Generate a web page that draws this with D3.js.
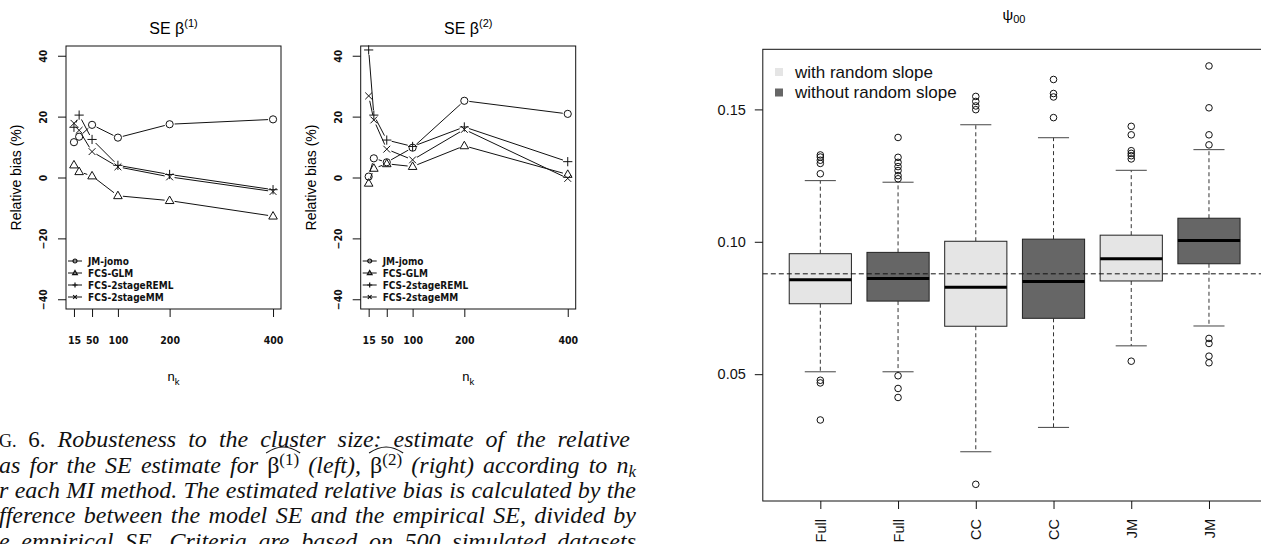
<!DOCTYPE html>
<html>
<head>
<meta charset="utf-8">
<script src="https://d3js.org/d3.v7.min.js"></script>
<style>
  body { margin: 0; background: #fff; }
  svg { display: block; }
</style>
</head>
<body></body>
<script>
    // relative bias (%) of the SE, by cluster size n_k
    var nk = [15, 25, 50, 100, 200, 400];
    var nkTicks = [15, 50, 100, 200, 400];
    var biasTicks = [-40, -20, 0, 20, 40];
    var methods = ["JM-jomo", "FCS-GLM", "FCS-2stageREML", "FCS-2stageMM"];
    var markers = ["circle", "triangle", "plus", "cross"];

    var b1Jomo = [11.6, 13.4, 17.3, 13.1, 17.5, 19.1];
    var b1Glm  = [4.1, 1.9, 0.5, -6.0, -7.6, -12.7];
    var b1Reml = [16.5, 20.5, 12.5, 4.0, 1.0, -4.0];
    var b1Mm   = [17.8, 15.5, 8.5, 3.5, 0.2, -4.6];

    var b2Jomo = [0.3, 6.3, 5.0, 9.8, 25.2, 20.9];
    var b2Glm  = [-1.9, 3.0, 4.5, 3.6, 10.4, 1.0];
    var b2Reml = [41.9, 20.5, 12.3, 10.2, 16.6, 5.2];
    var b2Mm   = [26.8, 18.9, 9.3, 5.8, 15.8, -0.3];

    // psi_00 boxplot summaries
    var boxLabels = ["Full", "Full", "CC", "CC", "JM", "JM"];
    var boxGroup  = [0, 1, 0, 1, 0, 1];
    var groupNames = ["with random slope", "without random slope"];
    var q1      = [0.0766, 0.0776, 0.0681, 0.0711, 0.0852, 0.0917];
    var med     = [0.0857, 0.0861, 0.0828, 0.0850, 0.0936, 0.1005];
    var q3      = [0.0955, 0.0960, 0.1002, 0.1010, 0.1025, 0.1089];
    var whiskLo = [0.0509, 0.0509, 0.0207, 0.0299, 0.0607, 0.0682];
    var whiskHi = [0.1231, 0.1225, 0.1442, 0.1393, 0.1270, 0.1348];
    var outliers = [
        [0.1328, 0.1320, 0.1308, 0.1296, 0.1257, 0.0477, 0.0467, 0.0327],
        [0.1394, 0.1319, 0.1300, 0.1284, 0.1269, 0.1250, 0.1238, 0.0494, 0.0446, 0.0412],
        [0.1549, 0.1530, 0.1513, 0.1499, 0.0084],
        [0.1613, 0.1560, 0.1547, 0.1469],
        [0.1436, 0.1404, 0.1344, 0.1334, 0.1325, 0.1313, 0.0549],
        [0.1664, 0.1506, 0.1404, 0.1366, 0.0635, 0.0616, 0.0568, 0.0543]
    ];
    var trueValue = 0.0879;
    var psiTicks = [0.05, 0.10, 0.15];

    var svg = d3.select("body").append("svg")
        .attr("width", 1261)
        .attr("height", 544)
        .style("font-family", "'Liberation Sans', Arial, sans-serif");

    var narrow = "'Liberation Sans Narrow', 'DejaVu Sans Condensed', sans-serif";

    let markerPath = (type, f) => {
        let p = d3.path();
        if (type === "circle") {
            p.moveTo(3.6 * f, 0);
            p.arc(0, 0, 3.6 * f, 0, 2 * Math.PI);
        } else if (type === "triangle") {
            p.moveTo(0, -4.6 * f);
            p.lineTo(4.3 * f, 2.9 * f);
            p.lineTo(-4.3 * f, 2.9 * f);
            p.closePath();
        } else if (type === "plus") {
            p.moveTo(-4.6 * f, 0); p.lineTo(4.6 * f, 0);
            p.moveTo(0, -4.6 * f); p.lineTo(0, 4.6 * f);
        } else {
            p.moveTo(-3.4 * f, -3.4 * f); p.lineTo(3.4 * f, 3.4 * f);
            p.moveTo(-3.4 * f, 3.4 * f); p.lineTo(3.4 * f, -3.4 * f);
        }
        return p.toString();
    }

    let drawPanel = (left, right, sup, series) => {
        let top = 46, bottom = 309;
        let x = d3.scaleLinear().domain([-0.4, 415.4]).range([left, right]);
        let y = d3.scaleLinear().domain([-43.2, 43.2]).range([bottom, top]);
        let g = svg.append("g");

        g.append("rect")
            .attr("x", left).attr("y", top)
            .attr("width", right - left).attr("height", bottom - top)
            .attr("fill", "none").attr("stroke", "#111");

        let yAxis = g.append("g")
            .attr("transform", "translate(" + left + ",0)")
            .call(d3.axisLeft(y).tickValues(biasTicks).tickSize(8).tickFormat(d3.format("d")));
        yAxis.select(".domain").remove();
        yAxis.selectAll(".tick text")
            .attr("x", null).attr("dy", null).attr("y", 0)
            .attr("text-anchor", "middle")
            .attr("transform", "translate(-19,0) rotate(-90)");

        let xAxis = g.append("g")
            .attr("transform", "translate(0," + bottom + ")")
            .call(d3.axisBottom(x).tickValues(nkTicks).tickSize(8).tickFormat(d3.format("d")));
        xAxis.select(".domain").remove();
        xAxis.selectAll("text").attr("y", 35).attr("dy", null);

        g.selectAll(".tick text")
            .style("font-family", narrow).style("font-weight", "bold")
            .style("font-size", "10.5px").attr("fill", "#111");
        g.selectAll(".tick line").attr("stroke", "#111");

        // title
        let cx = (left + right) / 2;
        let t = g.append("text").attr("x", cx).attr("y", 34)
            .attr("text-anchor", "middle").style("font-size", "16px");
        t.append("tspan").text("SE \u03b2");
        t.append("tspan").attr("dy", -7).style("font-size", "11px").text(sup);

        let xl = g.append("text").attr("x", cx).attr("y", 381)
            .attr("text-anchor", "middle").style("font-size", "13px");
        xl.append("tspan").text("n");
        xl.append("tspan").attr("dy", 4).style("font-size", "9.5px").text("k");

        g.append("text")
            .attr("transform", "translate(" + (left - 45) + "," + ((top + bottom) / 2) + ") rotate(-90)")
            .attr("text-anchor", "middle")
            .style("font-size", "14px")
            .text("Relative bias (%)");

        // type = "b" lines: segments with gaps at the points
        series.forEach(function(s, si) {
            let pts = s.map((v, i) => [x(nk[i]), y(v)]);
            for (let i = 0; i < pts.length - 1; i++) {
                let dx = pts[i + 1][0] - pts[i][0], dy = pts[i + 1][1] - pts[i][1];
                let len = Math.sqrt(dx * dx + dy * dy), gap = 5;
                if (len <= 2 * gap) continue;
                let ux = dx / len, uy = dy / len;
                g.append("line")
                    .attr("x1", pts[i][0] + ux * gap).attr("y1", pts[i][1] + uy * gap)
                    .attr("x2", pts[i + 1][0] - ux * gap).attr("y2", pts[i + 1][1] - uy * gap)
                    .attr("stroke", "#111").attr("stroke-width", 1);
            }
            g.selectAll(".m" + si).data(pts).enter()
                .append("path")
                .attr("transform", d => "translate(" + d[0] + "," + d[1] + ")")
                .attr("d", markerPath(markers[si], 1))
                .attr("fill", "none").attr("stroke", "#111").attr("stroke-width", 1);
        });

        // legend
        methods.forEach(function(m, i) {
            let ly = 261 + i * 12;
            g.append("line").attr("x1", left + 2).attr("x2", left + 16)
                .attr("y1", ly).attr("y2", ly).attr("stroke", "#111");
            g.append("path").attr("transform", "translate(" + (left + 9) + "," + ly + ")")
                .attr("d", markerPath(markers[i], 0.55))
                .attr("fill", "none").attr("stroke", "#111").attr("stroke-width", 1.2);
            g.append("text").attr("x", left + 22).attr("y", ly + 3.5)
                .style("font-family", narrow).style("font-weight", "bold")
                .style("font-size", "10px").attr("fill", "#111").text(m);
        });
    }

    drawPanel(66, 281, "(1)", [b1Jomo, b1Glm, b1Reml, b1Mm]);
    drawPanel(360.7, 575.7, "(2)", [b2Jomo, b2Glm, b2Reml, b2Mm]);

    // caption (cut at the left edge, justified)
    var capLines = [
        [{t: "G.", s: 18}, {t: " 6.", s: 23}, {t: "  Robusteness to the cluster size: estimate of the relative", it: 1}],
        [{t: "as for the SE estimate for ", it: 1}, {t: "\u03b2", hat: 1}, {t: "(1)", sup: 1},
         {t: " (left), ", it: 1}, {t: "\u03b2", hat: 2}, {t: "(2)", sup: 1},
         {t: " (right) according to ", it: 1}, {t: "n", it: 1}, {t: "k", sub: 1}],
        [{t: "r each MI method. The estimated relative bias is calculated by the", it: 1}],
        [{t: "fference between the model SE and the empirical SE, divided by", it: 1}],
        [{t: "e empirical SE. Criteria are based on 500 simulated datasets", it: 1}]
    ];
    var capBase = [447, 473, 498, 523, 549];

    capLines.forEach(function(line, li) {
        let txt = svg.append("text")
            .attr("x", -1).attr("y", capBase[li])
            .style("font-family", "'Liberation Serif', 'Times New Roman', serif")
            .style("font-size", "24px").attr("fill", "#111");
        let shift = 0, idx = 0, hats = [];
        line.forEach(function(seg) {
            let ts = txt.append("tspan").text(seg.t);
            if (seg.it) ts.style("font-style", "italic");
            if (seg.s) ts.style("font-size", seg.s + "px");
            if (seg.sup) { ts.attr("dy", -8 - shift).style("font-size", "17px"); shift = -8; }
            else if (seg.sub) { ts.attr("dy", 4 - shift).style("font-size", "17px").style("font-style", "italic"); shift = 4; }
            else if (shift !== 0) { ts.attr("dy", -shift); shift = 0; }
            if (seg.hat) hats.push(idx);
            idx += seg.t.length;
        });
        let node = txt.node();
        let natural = node.getComputedTextLength();
        let full = txt.text();
        let spaces = (full.match(/ /g) || []).length;
        let target = 636 - (-1);
        if (spaces > 0) txt.style("word-spacing", Math.max(0, (target - natural) / spaces) + "px");
        hats.forEach(function(ci) {
            let x0 = node.getStartPositionOfChar(ci).x - 1;
            let x1 = node.getEndPositionOfChar(ci + 3).x + 1;
            let yb = capBase[li] - 20, yt = capBase[li] - 26;
            let xm = (x0 + x1) / 2;
            svg.append("path")
                .attr("d", "M" + x0 + "," + yb + " Q" + (xm - 8) + "," + yt + " " + xm + "," + yt +
                           " Q" + (xm + 8) + "," + yt + " " + x1 + "," + yb)
                .attr("fill", "none").attr("stroke", "#111").attr("stroke-width", 1.2);
        });
    });

    // psi_00 boxplot
    var bx = d3.scaleLinear().domain([0.26, 6.74]).range([762.8, 1266.5]);
    var by = d3.scaleLinear().domain([0.0021, 0.1727]).range([501, 49.3]);
    var fills = ["#e5e5e5", "#666666"];
    var bg = svg.append("g");

    bg.append("rect")
        .attr("x", bx(0.26)).attr("y", by(0.1727))
        .attr("width", bx(6.74) - bx(0.26)).attr("height", by(0.0021) - by(0.1727))
        .attr("fill", "none").attr("stroke", "#111");

    var idx = d3.range(boxLabels.length);
    var boxes = bg.selectAll(".box").data(idx).enter().append("g");

    boxes.append("line")
        .attr("x1", i => bx(i + 1)).attr("x2", i => bx(i + 1))
        .attr("y1", i => by(q3[i])).attr("y2", i => by(whiskHi[i]))
        .attr("stroke", "#333").attr("stroke-dasharray", "4,3");
    boxes.append("line")
        .attr("x1", i => bx(i + 1)).attr("x2", i => bx(i + 1))
        .attr("y1", i => by(q1[i])).attr("y2", i => by(whiskLo[i]))
        .attr("stroke", "#333").attr("stroke-dasharray", "4,3");
    boxes.append("line")
        .attr("x1", i => bx(i + 0.8)).attr("x2", i => bx(i + 1.2))
        .attr("y1", i => by(whiskHi[i])).attr("y2", i => by(whiskHi[i]))
        .attr("stroke", "#444");
    boxes.append("line")
        .attr("x1", i => bx(i + 0.8)).attr("x2", i => bx(i + 1.2))
        .attr("y1", i => by(whiskLo[i])).attr("y2", i => by(whiskLo[i]))
        .attr("stroke", "#444");
    boxes.append("rect")
        .attr("x", i => bx(i + 0.6)).attr("width", i => bx(i + 1.4) - bx(i + 0.6))
        .attr("y", i => by(q3[i])).attr("height", i => by(q1[i]) - by(q3[i]))
        .attr("fill", i => fills[boxGroup[i]]).attr("stroke", "#222");
    boxes.append("line")
        .attr("x1", i => bx(i + 0.6)).attr("x2", i => bx(i + 1.4))
        .attr("y1", i => by(med[i])).attr("y2", i => by(med[i]))
        .attr("stroke", "#000").attr("stroke-width", 3);
    boxes.each(function(i) {
        d3.select(this).selectAll("circle").data(outliers[i]).enter()
            .append("circle")
            .attr("cx", bx(i + 1)).attr("cy", d => by(d)).attr("r", 3.3)
            .attr("fill", "none").attr("stroke", "#111");
    });

    bg.append("line")
        .attr("x1", bx(0.26)).attr("x2", bx(6.74))
        .attr("y1", by(trueValue)).attr("y2", by(trueValue))
        .attr("stroke", "#111").attr("stroke-dasharray", "5,3");

    var py = bg.append("g")
        .attr("transform", "translate(" + bx(0.26) + ",0)")
        .call(d3.axisLeft(by).tickValues(psiTicks).tickSize(8).tickPadding(9).tickFormat(d3.format(".2f")));
    py.select(".domain").remove();
    py.selectAll("text").style("font-size", "14.5px").attr("fill", "#111");
    py.selectAll("line").attr("stroke", "#111");

    var px = bg.append("g")
        .attr("transform", "translate(0," + by(0.0021) + ")")
        .call(d3.axisBottom(bx).tickValues(idx.map(i => i + 1)).tickSize(8).tickFormat((d, i) => boxLabels[i]));
    px.select(".domain").remove();
    px.selectAll("line").attr("stroke", "#111");
    px.selectAll("text")
        .attr("y", 0).attr("dy", "0.35em")
        .attr("transform", "translate(0,18) rotate(-90)")
        .attr("text-anchor", "end")
        .style("font-size", "14.5px").attr("fill", "#111");

    var tt = bg.append("text").attr("x", 1014).attr("y", 20).attr("text-anchor", "middle")
        .style("font-size", "15px");
    tt.append("tspan").text("\u03c8");
    tt.append("tspan").attr("dy", 3).style("font-size", "11px").text("00");

    groupNames.forEach(function(n, i) {
        bg.append("rect").attr("x", 775).attr("y", 68 + i * 20.5).attr("width", 8).attr("height", 8)
            .attr("fill", fills[i]);
        bg.append("text").attr("x", 795).attr("y", 77.5 + i * 20)
            .style("font-size", "17px").attr("fill", "#111").text(n);
    });
</script>
</html>
